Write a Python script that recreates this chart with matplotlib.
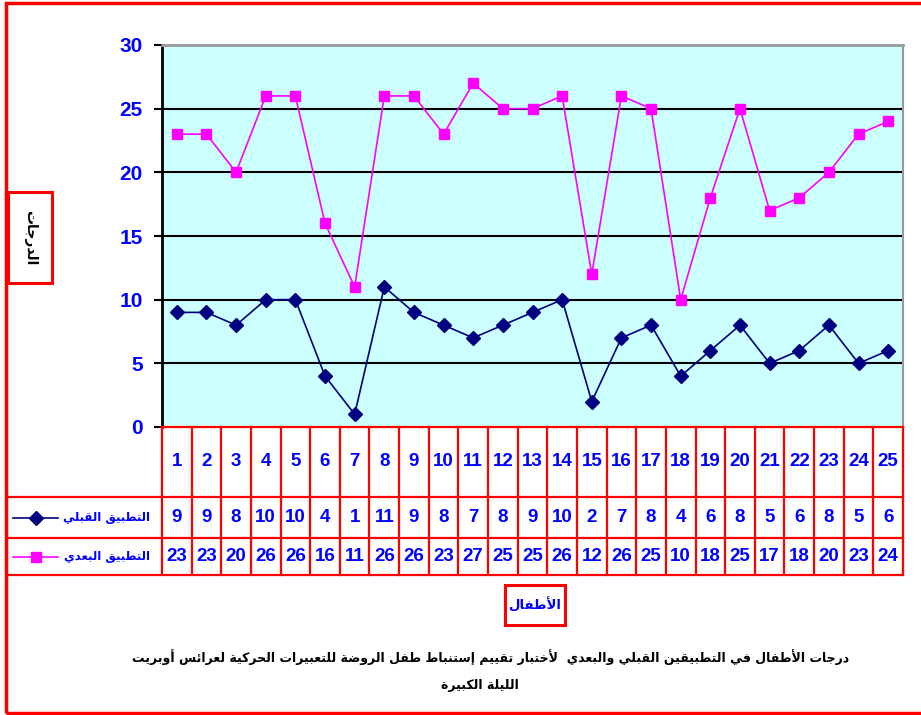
import matplotlib
matplotlib.use("Agg")
import matplotlib.pyplot as plt
from matplotlib import font_manager
from matplotlib.patches import Rectangle
from matplotlib.lines import Line2D

# ==================== Data ====================
children = list(range(1, 26))
pre_scores = [9, 9, 8, 10, 10, 4, 1, 11, 9, 8, 7, 8, 9, 10, 2, 7, 8, 4, 6, 8, 5, 6, 8, 5, 6]
post_scores = [23, 23, 20, 26, 26, 16, 11, 26, 26, 23, 27, 25, 25, 26, 12, 26, 25, 10, 18, 25, 17, 18, 20, 23, 24]
y_ticks = [0, 5, 10, 15, 20, 25, 30]

PRE_LABEL = "التطبيق القبلي"
POST_LABEL = "التطبيق البعدي"
Y_LABEL = "الدرجات"
X_LABEL = "الأطفال"
TITLE_1 = "درجات الأطفال في التطبيقين القبلي والبعدي  لأختبار تقييم إستنباط طفل الروضة للتعبيرات الحركية لعرائس أوبريت"
TITLE_2 = "الليلة الكبيرة"

# ==================== Style ====================
PRE_COLOR = "#000080"
POST_COLOR = "#FF00FF"
PLOT_BG = "#CCFFFF"
RED = "#FF0000"
BLUE = "#0000FF"
FONTS = ["Liberation Sans", "DejaVu Sans"]

# condensed DejaVu is closer to the narrow bold Arabic of the original
try:
    font_manager.findfont(font_manager.FontProperties(family="DejaVu Sans Condensed", weight="bold"),
                          fallback_to_default=False)
    AR_FONT = ["DejaVu Sans Condensed"]
    AR_SCALE = 1.12
except ValueError:
    AR_FONT = ["DejaVu Sans"]
    AR_SCALE = 1.0

W, H = 921, 715
# pixel layout of the chart
PL, PR, PT, PB = 162, 903, 45, 427
TL, TB = 7, 575
ROW1, ROW2 = 497, 538

# ---- minimal Arabic shaping (presentation forms + visual order) ----
AR_FORMS = {
    'ء': (0xFE80, 1), 'آ': (0xFE81, 2), 'أ': (0xFE83, 2), 'ؤ': (0xFE85, 2),
    'إ': (0xFE87, 2), 'ئ': (0xFE89, 4), 'ا': (0xFE8D, 2), 'ب': (0xFE8F, 4),
    'ة': (0xFE93, 2), 'ت': (0xFE95, 4), 'ث': (0xFE99, 4), 'ج': (0xFE9D, 4),
    'ح': (0xFEA1, 4), 'خ': (0xFEA5, 4), 'د': (0xFEA9, 2), 'ذ': (0xFEAB, 2),
    'ر': (0xFEAD, 2), 'ز': (0xFEAF, 2), 'س': (0xFEB1, 4), 'ش': (0xFEB5, 4),
    'ص': (0xFEB9, 4), 'ض': (0xFEBD, 4), 'ط': (0xFEC1, 4), 'ظ': (0xFEC5, 4),
    'ع': (0xFEC9, 4), 'غ': (0xFECD, 4), 'ف': (0xFED1, 4), 'ق': (0xFED5, 4),
    'ك': (0xFED9, 4), 'ل': (0xFEDD, 4), 'م': (0xFEE1, 4), 'ن': (0xFEE5, 4),
    'ه': (0xFEE9, 4), 'و': (0xFEED, 2), 'ى': (0xFEEF, 2), 'ي': (0xFEF1, 4),
}
LAM_ALEF = {'آ': 0xFEF5, 'أ': 0xFEF7, 'إ': 0xFEF9, 'ا': 0xFEFB}


def ar(text):
    units = []
    i = 0
    while i < len(text):
        c = text[i]
        if c == 'ل' and i + 1 < len(text) and text[i + 1] in LAM_ALEF:
            units.append((LAM_ALEF[text[i + 1]], 2))
            i += 2
        else:
            units.append(AR_FORMS.get(c, c))
            i += 1
    out = []
    for k, u in enumerate(units):
        if isinstance(u, str):
            out.append(u)
            continue
        base, n = u
        prev = units[k - 1] if k > 0 else None
        nxt = units[k + 1] if k + 1 < len(units) else None
        join_prev = n > 1 and isinstance(prev, tuple) and prev[1] == 4
        join_next = n == 4 and isinstance(nxt, tuple) and nxt[1] > 1
        if join_prev and join_next:
            code = base + 3
        elif join_prev:
            code = base + 1
        elif join_next:
            code = base + 2
        else:
            code = base
        out.append(chr(code))
    return ''.join(reversed(out))


def fx(px):
    return px / W


def fy(py):
    return 1 - py / H


fig = plt.figure(figsize=(W / 100, H / 100), dpi=100)
fig.patch.set_facecolor("white")

# ---- main plot ----
ax = fig.add_axes([fx(PL), fy(PB), fx(PR - PL), (PB - PT) / H])
ax.set_facecolor(PLOT_BG)
ax.plot(children, pre_scores, color=PRE_COLOR, lw=1.2, marker="D", ms=7,
        mfc=PRE_COLOR, mec=PRE_COLOR, zorder=4)
ax.plot(children, post_scores, color=POST_COLOR, lw=1.2, marker="s", ms=7.5,
        mfc=POST_COLOR, mec=POST_COLOR, zorder=4)
ax.set_xlim(0.5, len(children) + 0.5)
ax.set_ylim(0, 30)
ax.set_yticks(y_ticks)
for t in y_ticks[1:-1]:
    ax.axhline(t, color="black", lw=1.5, zorder=2)
ax.set_xticks([])
ax.tick_params(axis="y", length=6, width=1.5, pad=8, colors="black")
for lab in ax.get_yticklabels():
    lab.set_color(BLUE)
    lab.set_fontweight("bold")
    lab.set_fontsize(15)
    lab.set_family(FONTS)
ax.spines["left"].set_linewidth(2)
ax.spines["left"].set_color("black")
ax.spines["top"].set_color("#999999")
ax.spines["top"].set_linewidth(2)
ax.spines["right"].set_color("#999999")
ax.spines["right"].set_linewidth(1.5)
ax.spines["bottom"].set_visible(False)

# ---- data table ----
px_per_unit = (PR - PL) / len(children)
tax = fig.add_axes([fx(TL), fy(TB), fx(PR - TL), (TB - PB) / H])
tax.set_xlim(0.5 - (PL - TL) / px_per_unit, len(children) + 0.5)
tax.set_ylim(0, TB - PB)
tax.axis("off")
x_left = tax.get_xlim()[0]
x_right = len(children) + 0.5
y_r1 = TB - ROW1
y_r2 = TB - ROW2
y_top = TB - PB
lw_t = 1.6
tax.plot([0.5, x_right], [y_top, y_top], color=RED, lw=lw_t, clip_on=False)
for yy in [y_r1, y_r2, 0]:
    tax.plot([x_left, x_right], [yy, yy], color=RED, lw=lw_t, clip_on=False)
for xx in [c - 0.5 for c in children] + [x_right]:
    tax.plot([xx, xx], [0, y_top], color=RED, lw=lw_t, clip_on=False)

num_kw = dict(color=BLUE, fontweight="bold", fontsize=13.5, family=FONTS,
              ha="center", va="center")
for c, a, b in zip(children, pre_scores, post_scores):
    tax.text(c, (y_r1 + y_top) / 2, str(c), **num_kw)
    tax.text(c, (y_r1 + y_r2) / 2, str(a), **num_kw)
    tax.text(c, y_r2 / 2, str(b), **num_kw)

# legend keys in the left column
leg_x0 = x_left + (13 - TL) / px_per_unit
leg_x1 = x_left + (58 - TL) / px_per_unit
leg_xt = x_left + (150 - TL) / px_per_unit
for yy, col, mk, ms, lab in [((y_r1 + y_r2) / 2, PRE_COLOR, "D", 7, PRE_LABEL),
                             (y_r2 / 2, POST_COLOR, "s", 7.5, POST_LABEL)]:
    tax.add_line(Line2D([leg_x0, leg_x1], [yy, yy], color=col, lw=1.2))
    tax.plot([(leg_x0 + leg_x1) / 2], [yy], marker=mk, ms=ms, color=col)
    tax.text(leg_xt, yy, ar(lab), color=BLUE, fontweight="bold",
             fontsize=8.5 * AR_SCALE, family=AR_FONT, ha="right", va="center")

# ---- outer frame and label boxes ----
fig.add_artist(Rectangle((fx(6), fy(713)), fx(930 - 6), (713 - 3) / H,
                         transform=fig.transFigure, fill=False, ec=RED, lw=2.5,
                         clip_on=False))
fig.add_artist(Rectangle((fx(8), fy(283)), fx(52 - 8), (283 - 192) / H,
                         transform=fig.transFigure, fc="white", ec=RED, lw=2.2))
fig.text(fx(30), fy(237.5), ar(Y_LABEL), rotation=-90, ha="center", va="center",
         fontsize=10 * AR_SCALE, fontweight="bold", color="black", family=AR_FONT)
fig.add_artist(Rectangle((fx(505), fy(625)), fx(565 - 505), (625 - 585) / H,
                         transform=fig.transFigure, fc="white", ec=RED, lw=2.2))
fig.text(fx(535), fy(605), ar(X_LABEL), ha="center", va="center",
         fontsize=9.5 * AR_SCALE, fontweight="bold", color=BLUE, family=AR_FONT)

fig.text(fx(491), fy(657), ar(TITLE_1), ha="center", va="center",
         fontsize=9 * AR_SCALE, fontweight="bold", color="black", family=AR_FONT)
fig.text(fx(480), fy(686), ar(TITLE_2), ha="center", va="center",
         fontsize=9 * AR_SCALE, fontweight="bold", color="black", family=AR_FONT)

fig.savefig("out.png", dpi=100, facecolor="white")
